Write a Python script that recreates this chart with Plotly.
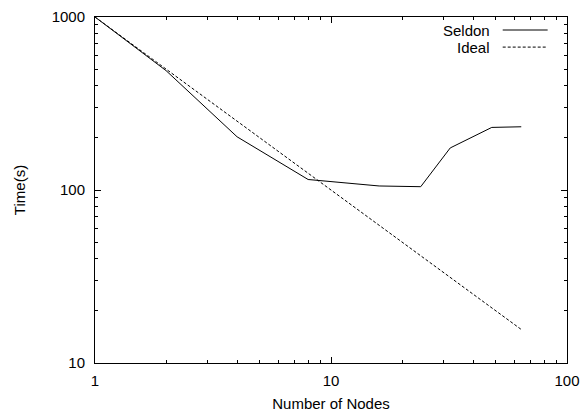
import plotly.graph_objects as go

# Scaling results: wall-clock time versus node count
nodes = [1, 2, 4, 8, 16, 24, 32, 48, 64]
seldon_time = [1000, 490, 203, 115, 105.5, 104.5, 175, 230, 232]

ideal_nodes = [1, 2, 4, 8, 16, 32, 64]
ideal_time = [1000, 500, 250, 125, 62.5, 31.25, 15.625]

x_major = [1, 10, 100]
x_minor = [2, 3, 4, 5, 6, 7, 8, 9, 20, 30, 40, 50, 60, 70, 80, 90]
y_major = [10, 100, 1000]
y_minor = [20, 30, 40, 50, 60, 70, 80, 90, 200, 300, 400, 500, 600, 700, 800, 900]

FONT = "Liberation Sans, Arial, Helvetica, sans-serif"

fig = go.Figure()
fig.add_trace(go.Scatter(x=nodes, y=seldon_time, mode="lines", name="Seldon",
                         line=dict(color="black", width=1)))
fig.add_trace(go.Scatter(x=ideal_nodes, y=ideal_time, mode="lines", name="Ideal",
                         line=dict(color="black", width=1, dash="3px,2px")))

axis_common = dict(
    type="log", showgrid=False, zeroline=False, automargin=False,
    showline=True, linecolor="black", linewidth=1, mirror="ticks",
    ticks="inside", ticklen=6, tickcolor="black", tickwidth=1,
    tickmode="array",
    tickfont=dict(family=FONT, size=15, color="black"),
)

fig.update_xaxes(range=[0, 2], tickvals=x_major, ticktext=[str(v) for v in x_major],
                 ticklabelstandoff=4,
                 minor=dict(tickmode="array", tickvals=x_minor, ticks="inside", ticklen=3,
                            tickcolor="black", tickwidth=1, showgrid=False),
                 title=dict(text="Number of Nodes", font=dict(family=FONT, size=15, color="black"),
                            standoff=10),
                 **axis_common)
fig.update_yaxes(range=[1, 3], tickvals=y_major, ticktext=[str(v) for v in y_major],
                 ticklabelstandoff=6,
                 minor=dict(tickmode="array", tickvals=y_minor, ticks="inside", ticklen=3,
                            tickcolor="black", tickwidth=1, showgrid=False),
                 title=dict(text="Time(s)", font=dict(family=FONT, size=15, color="black"),
                            standoff=22),
                 **axis_common)

# Key in the top-right corner: label first, line sample after it
key = [("Seldon", 0.9624, "solid"), ("Ideal", 0.913, "3px,2px")]
for label, yk, dash in key:
    fig.add_annotation(x=0.8405, y=yk, xref="paper", yref="paper", text=label,
                       showarrow=False, xanchor="right", yanchor="middle",
                       font=dict(family=FONT, size=15, color="black"))
    fig.add_shape(type="line", xref="paper", yref="paper", x0=0.8638, x1=0.959,
                  y0=yk, y1=yk, line=dict(color="black", width=1, dash=dash))

fig.update_layout(
    width=587, height=419,
    margin=dict(l=95, r=20, t=17, b=56),
    paper_bgcolor="white", plot_bgcolor="white",
    showlegend=False,
    font=dict(family=FONT, size=15, color="black"),
)

fig.write_html("out.html")
